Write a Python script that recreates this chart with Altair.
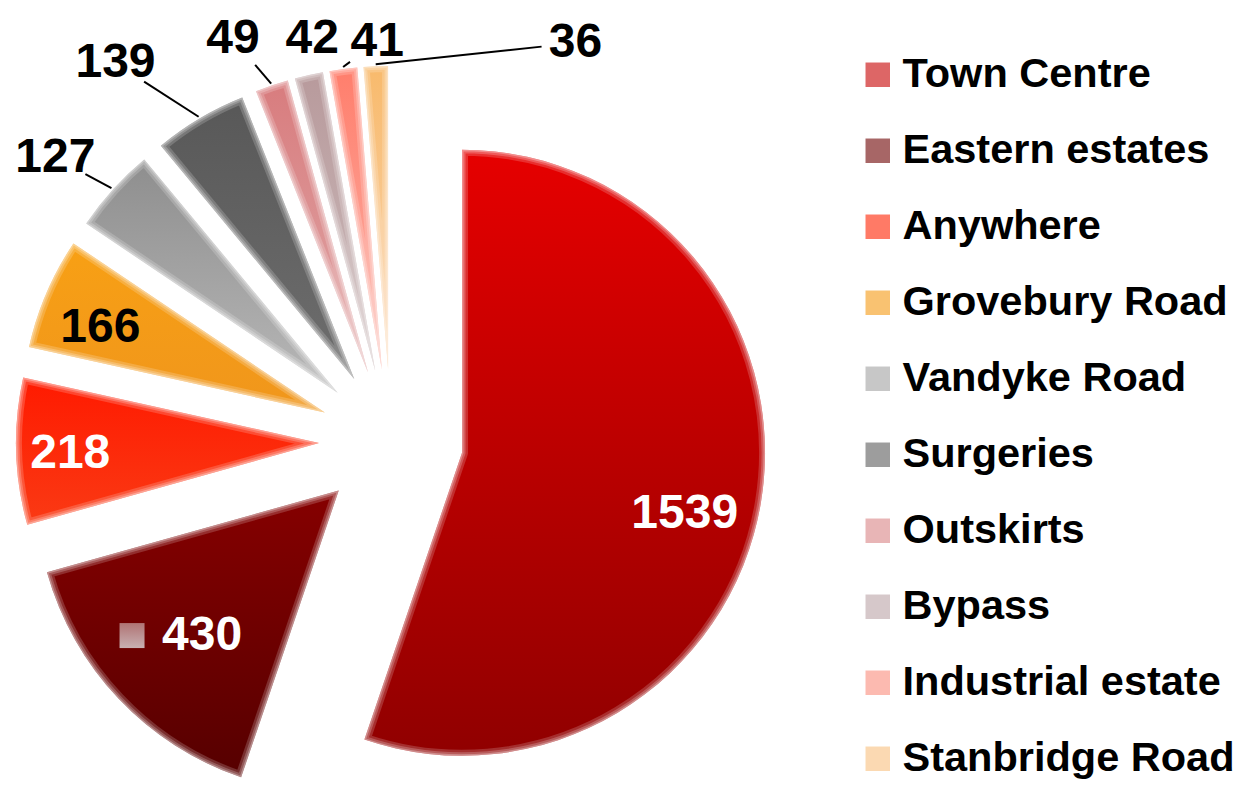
import altair as alt
import pandas as pd

# ---------------- data ----------------
categories = ["Town Centre", "Eastern estates", "Anywhere", "Grovebury Road",
              "Vandyke Road", "Surgeries", "Outskirts", "Bypass",
              "Industrial estate", "Stanbridge Road"]
values = [1539, 430, 218, 166, 127, 139, 49, 42, 41, 36]

# ---------------- styles / layout ----------------
colors = ["#C60000", "#6C0000", "#FF2200", "#F59A12", "#A2A2A2",
          "#5C5C5C", "#D88486", "#BBA3A6", "#FA8C7C", "#F8C07E"]
grad_top = ["#E60000", "#860000", "#FF1A00", "#F8A014", "#8E8E8E",
            "#585858", "#D87C7E", "#B89A9C", "#FF7E6C", "#F8BA6C"]
grad_bottom = ["#900000", "#560000", "#FA3A14", "#F0961C", "#B8B8B8",
               "#6E6E6E", "#E0A8A8", "#CCBCBC", "#FCB4AA", "#FAD6B2"]
label_colors = ["white", "white", "white", "black", "black",
                "black", "black", "black", "black", "black"]
label_outside = [False, False, False, False, True, True, True, True, True, True]
label_key = [False, True, False, False, False, False, False, False, False, False]
label_radius = [231, 215, 249, 240, 367, 396, 360, 338, 328, 376]
label_shift_deg = [6, 1, -1, -2.5, -2.4, -6.4, -3.5, 1.9, 6.5, 32.2]

FONT = "Liberation Sans"
CX, CY = 383, 433      # pie centre inside the plot area
R = 303                # outer radius
D = 72                 # explode distance

df = pd.DataFrame({
    "category": categories,
    "value": values,
    "order": list(range(len(categories))),
    "lc": label_colors,
    "out": label_outside,
    "key": label_key,
    "lr": label_radius,
    "lshift": label_shift_deg,
})


def vgrad(c0, c1):
    return alt.LinearGradient(
        gradient="linear", x1=0, y1=0, x2=0, y2=1,
        stops=[alt.GradientStop(color=c0, offset=0),
               alt.GradientStop(color=c1, offset=1)])


X = lambda f: alt.X(f"{f}:Q", scale=None, axis=None)
Y = lambda f: alt.Y(f"{f}:Q", scale=None, axis=None)

arc_enc = dict(
    x=X("cx"), y=Y("cy"),
    theta=alt.Theta("t0:Q", scale=None, stack=None),
    theta2="t1:Q",
)

# base layer: solid colours, carries the legend
slices = alt.Chart().mark_arc(radius=R).encode(
    color=alt.Color(
        "category:N",
        scale=alt.Scale(domain=categories, range=colors),
        sort=categories,
        legend=alt.Legend(
            orient="none", legendX=849, legendY=46, title=None, padding=0,
            symbolType="square", symbolSize=600, symbolOpacity=0.6,
            symbolStrokeWidth=0, labelFont=FONT, labelFontSize=41.5,
            labelFontWeight="bold", labelColor="black", labelOffset=4,
            rowPadding=33.0, labelLimit=500,
        ),
    ),
    **arc_enc,
)

# per-slice gradient fills
grad_layers = [
    alt.Chart().mark_arc(radius=R, fill=vgrad(grad_top[i], grad_bottom[i]))
    .encode(**arc_enc)
    .transform_filter(alt.datum.category == cat)
    for i, cat in enumerate(categories)
]

# soft edges: stacked translucent white outlines
soft_layers = [
    alt.Chart().mark_arc(radius=R, filled=False, stroke="white",
                         strokeWidth=w, strokeOpacity=o,
                         strokeJoin="round").encode(**arc_enc)
    for w, o in [(12, 0.18), (7, 0.22), (3, 0.3)]
]

leaders = alt.Chart().mark_rule(color="black", strokeWidth=2).encode(
    x=X("ex"), y=Y("ey"), x2="px:Q", y2="py:Q"
).transform_filter("datum.out && datum.L > 40")

key = alt.Chart().mark_square(size=625, fill=vgrad("#B07474", "#C8B0B2"),
                              opacity=1).encode(
    x=X("kx"), y=Y("ly")
).transform_filter("datum.key")

labels = alt.Chart().mark_text(
    font=FONT, fontSize=48, fontWeight="bold", align="center", baseline="middle"
).encode(
    x=X("tx"), y=Y("ly"),
    text="value:Q",
    color=alt.Color("lc:N", scale=None),
)

chart = alt.layer(
    slices, *grad_layers, *soft_layers, leaders, key, labels, data=df
).transform_window(
    cum="sum(value)", sort=[alt.SortField("order")], frame=[None, 0]
).transform_joinaggregate(
    total="sum(value)"
).transform_calculate(
    t0="2*PI*(datum.cum-datum.value)/datum.total",
    t1="2*PI*datum.cum/datum.total",
).transform_calculate(
    mid="(datum.t0+datum.t1)/2"
).transform_calculate(
    cx=f"{CX}+{D}*sin(datum.mid)",
    cy=f"{CY}-{D}*cos(datum.mid)",
    la="datum.mid + datum.lshift*PI/180",
).transform_calculate(
    lx="datum.cx + datum.lr*sin(datum.la)",
    ly="datum.cy - datum.lr*cos(datum.la)",
    ex=f"datum.cx + {R + 2}*sin(datum.mid)",
    ey=f"datum.cy - {R + 2}*cos(datum.mid)",
).transform_calculate(
    L="sqrt(pow(datum.ex-datum.lx,2)+pow(datum.ey-datum.ly,2))",
    tx="datum.key ? datum.lx + 22 : datum.lx",
    kx="datum.lx - 48",
).transform_calculate(
    px="datum.lx + (datum.ex-datum.lx)*34/datum.L",
    py="datum.ly + (datum.ey-datum.ly)*34/datum.L",
).properties(
    width=1231, height=773, padding=0, autosize="none"
).configure_view(strokeWidth=0)

chart.save("out.html", embed_options={"renderer": "svg", "actions": False})
